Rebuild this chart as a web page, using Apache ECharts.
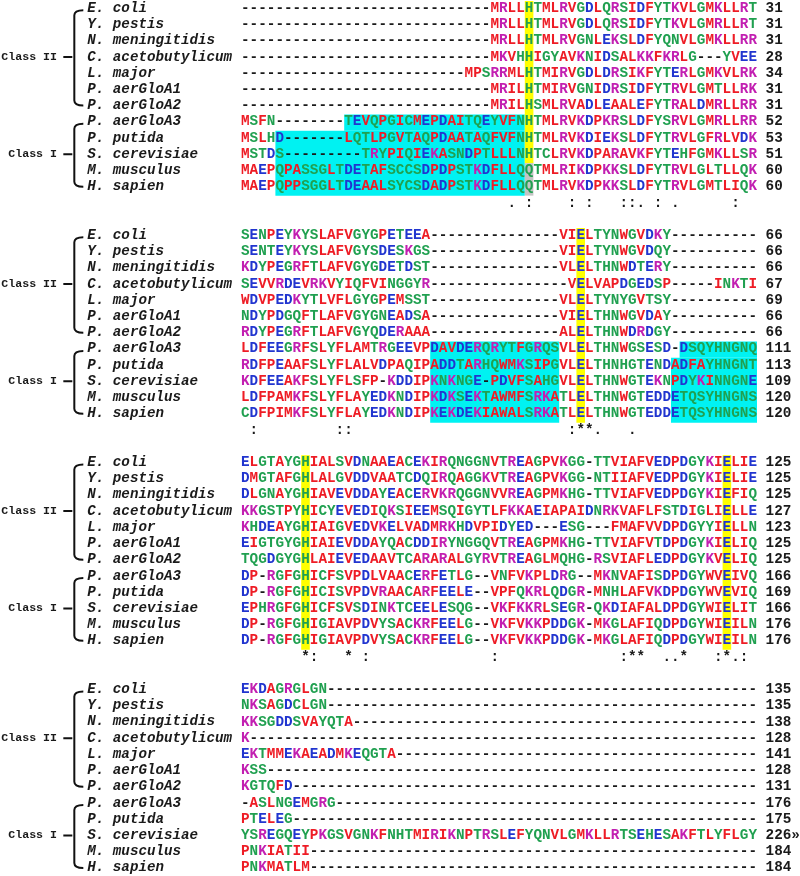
<!DOCTYPE html>
<html><head><meta charset="utf-8">
<script src="https://cdn.jsdelivr.net/npm/echarts@6/dist/echarts.min.js"></script>
<style>html,body{margin:0;padding:0;background:#fff}#c{width:800px;height:876px}</style>
</head><body><div id="c"></div>
<script>
// ---------------- DATA ----------------
const species = ['E. coli','Y. pestis','N. meningitidis','C. acetobutylicum','L. major','P. aerGloA1','P. aerGloA2','P. aerGloA3','P. putida','S. cerevisiae','M. musculus','H. sapien'];
// class name, first row, last row, label row
const classGroups = [['Class II',0,6,3],['Class I',7,11,9]];

const block1 = [
'-----------------------------MRLLHTMLRVGDLQRSIDFYTKVLGMKLLRT',
'-----------------------------MRLLHTMLRVGDLQRSIDFYTKVLGMRLLRT',
'-----------------------------MRLLHTMLRVGNLEKSLDFYQNVLGMKLLRR',
'-----------------------------MKVHHIGYAVKNIDSALKKFKRLG---YVEE',
'--------------------------MPSRRMLHTMIRVGDLDRSIKFYTERLGMKVLRK',
'-----------------------------MRILHTMIRVGNIDRSIDFYTRVLGMTLLRK',
'-----------------------------MRILHSMLRVADLEAALEFYTRALDMRLLRR',
'MSFN--------TEVQPGICMEPDAITQEYVFNHTMLRVKDPKRSLDFYSRVLGMRLLRR',
'MSLHD-------LQTLPGVTAQPDAATAQFVFNHTMLRVKDIEKSLDFYTRVLGFRLVDK',
'MSTDS---------TRYPIQIEKASNDPTLLLNHTCLRVKDPARAVKFYTEHFGMKLLSR',
'MAEPQPASSGLTDETAFSCCSDPDPSTKDFLLQQTMLRIKDPKKSLDFYTRVLGLTLLQK',
'MAEPQPPSGGLTDEAALSYCSDADPSTKDFLLQQTMLRVKDPKKSLDFYTRVLGMTLIQK'];
const block2 = [
'SENPEYKYSLAFVGYGPETEEA---------------VIELTYNWGVDKY----------',
'SENTEYKYSLAFVGYSDESKGS---------------VIELTYNWGVDQY----------',
'KDYPEGRFTLAFVGYGDETDST---------------VLELTHNWDTERY----------',
'SEVVRDEVRKVYIQFVINGGYR----------------VELVAPDGEDSP-----INKTI',
'WDVPEDKYTLVFLGYGPEMSST---------------VLELTYNYGVTSY----------',
'NDYPDGQFTLAFVGYGNEADSA---------------VIELTHNWGVDAY----------',
'RDYPEGRFTLAFVGYQDERAAA---------------ALELTHNWDRDGY----------',
'LDFEEGRFSLYFLAMTRGEEVPDAVDERQRYTFGRQSVLELTHNWGSESD-DSQYHNGNQ',
'RDFPEAAFSLYFLALVDPAQIPADDTARHQWMKSIPGVLELTHNHGTENDADFAYHNGNT',
'KDFEEAKFSLYFLSFP-KDDIPKNKNGE-PDVFSAHGVLELTHNWGTEKNPDYKINNGNE',
'LDFPAMKFSLYFLAYEDKNDIPKDKSEKTAWMFSRKATLELTHNWGTEDDETQSYHNGNS',
'CDFPIMKFSLYFLAYEDKNDIPKEKDEKIAWALSRKATLELTHNWGTEDDETQSYHNGNS'];
const block3 = [
'ELGTAYGHIALSVDNAAEACEKIRQNGGNVTREAGPVKGG-TTVIAFVEDPDGYKIELIE',
'DMGTAFGHLALGVDDVAATCDQIRQAGGKVTREAGPVKGG-NTIIAFVEDPDGYKIELIE',
'DLGNAYGHIAVEVDDAYEACERVKRQGGNVVREAGPMKHG-TTVIAFVEDPDGYKIEFIQ',
'KKGSTPYHICYEVEDIQKSIEEMSQIGYTLFKKAEIAPAIDNRKVAFLFSTDIGLIELLE',
'KHDEAYGHIAIGVEDVKELVADMRKHDVPIDYED---ESG---FMAFVVDPDGYYIELLN',
'EIGTGYGHIAIEVDDAYQACDDIRYNGGQVTREAGPMKHG-TTVIAFVTDPDGYKIELIQ',
'TQGDGYGHLAIEVEDAAVTCARARALGYRVTREAGLMQHG-RSVIAFLEDPDGYKVELIQ',
'DP-RGFGHICFSVPDLVAACERFETLG--VNFVKPLDRG--MKNVAFISDPDGYWVEIVQ',
'DP-RGFGHICISVPDVRAACARFEELE--VPFQKRLQDGR-MNHLAFVKDPDGYWVEVIQ',
'EPHRGFGHICFSVSDINKTCEELESQG--VKFKKRLSEGR-QKDIAFALDPDGYWIELIT',
'DP-RGFGHIGIAVPDVYSACKRFEELG--VKFVKKPDDGK-MKGLAFIQDPDGYWIEILN',
'DP-RGFGHIGIAVPDVYSACKRFEELG--VKFVKKPDDGK-MKGLAFIQDPDGYWIEILN'];
const block4 = [
'EKDAGRGLGN--------------------------------------------------',
'NKSAGDCLGN--------------------------------------------------',
'KKSGDDSVAYQTA-----------------------------------------------',
'K-----------------------------------------------------------',
'EKTMMEKAEADMKEQGTA------------------------------------------',
'KSS---------------------------------------------------------',
'KGTQFD------------------------------------------------------',
'-ASLNGEMGRG-------------------------------------------------',
'PTELEG------------------------------------------------------',
'YSREGQEYPKGSVGNKFNHTMIRIKNPTRSLEFYQNVLGMKLLRTSEHESAKFTLYFLGY',
'PNKIATII----------------------------------------------------',
'PNKMATLM----------------------------------------------------'];

const endNumbers1 = ['31','31','31','28','34','31','31','52','53','51','60','60'];
const endNumbers2 = ['66','66','66','67','69','66','66','111','113','109','120','120'];
const endNumbers3 = ['125','125','125','127','123','125','125','166','169','166','176','176'];
const endNumbers4 = ['135','135','138','128','141','128','131','176','175','226»','184','184'];

// conservation line: [alignment column, symbol]
const consensus1 = [[31,'.'],[33,':'],[38,':'],[40,':'],[44,':'],[45,':'],[46,'.'],[48,':'],[50,'.'],[57,':']];
const consensus2 = [[1,':'],[11,':'],[12,':'],[38,':'],[39,'*'],[40,'*'],[41,'.'],[45,'.']];
const consensus3 = [[7,'*'],[8,':'],[12,'*'],[14,':'],[29,':'],[44,':'],[45,'*'],[46,'*'],[49,'.'],[50,'.'],[51,'*'],[55,':'],[56,'*'],[57,'.'],[58,':']];
const consensus4 = [];

// shaded regions: [block, first row, last row, first column, last column, kind]
const shading = [
  [0,7,7,12,32,'cyan'],[0,8,11,4,32,'cyan'],
  [0,0,9,33,33,'yellow'],[0,10,11,33,33,'gray'],
  [1,7,11,22,36,'cyan'],[1,7,7,51,59,'cyan'],[1,8,11,50,59,'cyan'],
  [1,0,11,39,39,'yellow'],
  [2,0,11,7,7,'yellow'],[2,0,11,56,56,'yellow']
];

// ---------------- STYLE / LAYOUT ----------------
const FONT = '"Liberation Mono", "Courier New", monospace';
const SEQ_FONT = 'bold 14.3px ' + FONT;
const LABEL_FONT = 'italic bold 14.2px ' + FONT;
const CLASS_FONT = 'bold 11.6px ' + FONT;
const ROWS_PER_BLOCK = 14;
const LABEL_COL = -17.87;
const CLASS_COL = -21.4;
const NUM_COL = 61;
const CONS_ROW = 12;
const shadeColors = {cyan:'#00f2f2', yellow:'#ffff00', gray:'#c4c4c4'};
const RED='#ee1c25', BLUE='#2135cf', MAG='#c21fb1', GREEN='#20a050', INK='#1a1a1a';
function residueColor(ch){
  if ('AVFPMILW'.includes(ch)) return RED;
  if ('DE'.includes(ch)) return BLUE;
  if ('RK'.includes(ch)) return MAG;
  if ('STYHCNGQ'.includes(ch)) return GREEN;
  return INK;
}

const blocks = [block1, block2, block3, block4];
const endNumbers = [endNumbers1, endNumbers2, endNumbers3, endNumbers4];
const consensus = [consensus1, consensus2, consensus3, consensus4];

// ---------------- BUILD ----------------
const cellData = [], cellChars = [], cellColors = [];
blocks.forEach((blk, b) => blk.forEach((seq, r) => {
  for (let c = 0; c < seq.length; c++) {
    cellData.push([c + 0.5, b * ROWS_PER_BLOCK + r]);
    cellChars.push(seq[c]);
    cellColors.push(residueColor(seq[c]));
  }
}));
consensus.forEach((cons, b) => cons.forEach(([c, s]) => {
  cellData.push([c + 0.5, b * ROWS_PER_BLOCK + CONS_ROW]);
  cellChars.push(s);
  cellColors.push(INK);
}));

const texts = [];
blocks.forEach((blk, b) => {
  species.forEach((sp, r) => texts.push({pos:[LABEL_COL, b*ROWS_PER_BLOCK + r], text:sp, font:LABEL_FONT, align:'left'}));
  endNumbers[b].forEach((n, r) => texts.push({pos:[NUM_COL, b*ROWS_PER_BLOCK + r], text:n, font:SEQ_FONT, align:'left'}));
  classGroups.forEach(g => texts.push({pos:[CLASS_COL, b*ROWS_PER_BLOCK + g[3]], text:g[0], font:CLASS_FONT, align:'right'}));
});

const bracketData = [];
blocks.forEach((blk, b) => classGroups.forEach(g => bracketData.push([b*ROWS_PER_BLOCK + g[1], b*ROWS_PER_BLOCK + g[2], b*ROWS_PER_BLOCK + g[3]])));

const shadeData = shading.map(s => [s[3], s[0]*ROWS_PER_BLOCK + s[1], s[4], s[0]*ROWS_PER_BLOCK + s[2]]);

const chart = echarts.init(document.getElementById('c'), null, {renderer:'canvas'});
chart.setOption({
  animation: false,
  backgroundColor: '#ffffff',
  grid: {left: 0.2, top: 0.2, width: 799.8, height: 876.4},
  xAxis: {type:'value', min:-28, max:65, show:false},
  yAxis: {type:'value', min:-0.5, max:53.5, inverse:true, show:false},
  series: [
    {
      type:'custom', silent:true, clip:false, data: shadeData,
      renderItem(params, api){
        const s = shading[params.dataIndex];
        const p0 = api.coord([api.value(0), api.value(1) - 0.45]);
        const p1 = api.coord([api.value(2) + 1, api.value(3) + 0.55]);
        return {type:'rect', shape:{x:p0[0], y:p0[1], width:p1[0]-p0[0], height:p1[1]-p0[1]}, style:{fill: shadeColors[s[5]]}};
      }
    },
    {
      type:'custom', silent:true, clip:false, data: cellData,
      renderItem(params, api){
        const i = params.dataIndex;
        const p = api.coord([api.value(0), api.value(1)]);
        return {type:'text', x:p[0], y:p[1], style:{text:cellChars[i], fill:cellColors[i], font:SEQ_FONT, align:'center', verticalAlign:'middle'}};
      }
    },
    {
      type:'custom', silent:true, clip:false, data: texts.map(t => t.pos),
      renderItem(params, api){
        const t = texts[params.dataIndex];
        const p = api.coord([api.value(0), api.value(1)]);
        return {type:'text', x:p[0], y:p[1], style:{text:t.text, fill:INK, font:t.font, align:t.align, verticalAlign:'middle'}};
      }
    },
    {
      type:'custom', silent:true, clip:false, data: bracketData,
      renderItem(params, api){
        const xL = api.coord([LABEL_COL, 0])[0];
        const yT = api.coord([0, api.value(0)])[1] + 2;
        const yB = api.coord([0, api.value(1)])[1];
        const yM = api.coord([0, api.value(2)])[1];
        const xV = xL - 13;
        const d = 'M' + (xL-4) + ' ' + yT + ' Q' + xV + ' ' + yT + ' ' + xV + ' ' + (yT+5) +
                  ' L' + xV + ' ' + (yB-5) + ' Q' + xV + ' ' + yB + ' ' + (xL-4) + ' ' + yB +
                  ' M' + (xL-24) + ' ' + yM + ' L' + (xL-15) + ' ' + yM;
        return {type:'path', shape:{pathData:d}, style:{stroke:'#111', fill:null, lineWidth:2}};
      }
    }
  ]
});

const bad = [];
blocks.forEach((blk,b)=>blk.forEach((s,r)=>{ if (s.length !== 60) bad.push('block'+(b+1)+' row'+r+' len '+s.length); }));
if (bad.length) throw new Error(bad.join('; '));
</script></body></html>
